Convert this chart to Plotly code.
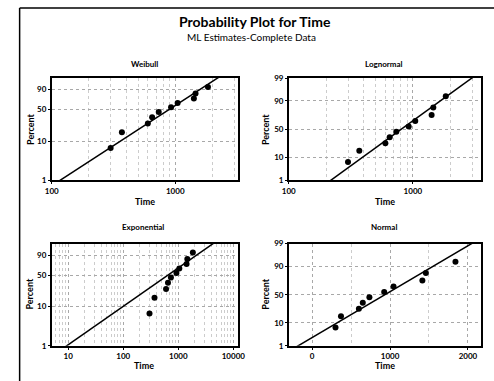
import math
import statistics
import plotly.graph_objects as go

# ---- data ----
time_values = [300, 370, 600, 650, 735, 925, 1045, 1415, 1460, 1840]
percent_rank = [6.7, 16.3, 26.0, 35.6, 45.2, 54.8, 64.4, 74.0, 83.7, 93.3]

weibull_yticks = [1, 10, 50, 90]
expo_yticks = [1, 10, 50, 90]
normal_yticks = [1, 10, 50, 90, 99]
weibull_xticks = [100, 1000]
lognormal_xticks = [100, 1000]
expo_xticks = [10, 100, 1000, 10000]
normal_xticks = [0, 1000, 2000]

panel_titles = ["Weibull", "Lognormal", "Exponential", "Normal"]

W, H = 494, 381
FONT = "Lato"
nd = statistics.NormalDist()


def sev(p):
    return math.log(-math.log(1 - p / 100.0))


def zq(p):
    return nd.inv_cdf(p / 100.0)


# ---- ML estimates ----
n = len(time_values)
lnx = [math.log(v) for v in time_values]
mean_ln = sum(lnx) / n


def wb_eq(k):
    xk = [v ** k for v in time_values]
    return sum(a * b for a, b in zip(xk, lnx)) / sum(xk) - 1.0 / k - mean_ln


lo, hi = 0.1, 30.0
for _ in range(200):
    mid = 0.5 * (lo + hi)
    if wb_eq(lo) * wb_eq(mid) <= 0:
        hi = mid
    else:
        lo = mid
wb_k = 0.5 * (lo + hi)
wb_lam = (sum(v ** wb_k for v in time_values) / n) ** (1.0 / wb_k)

ln_mu = mean_ln
ln_sig = math.sqrt(sum((a - ln_mu) ** 2 for a in lnx) / n)

ex_theta = sum(time_values) / n

no_mu = sum(time_values) / n
no_sig = math.sqrt(sum((v - no_mu) ** 2 for v in time_values) / n)

pgrid = [0.05 + i * (99.9 / 200) for i in range(201)]

wb_line_x = [wb_lam * (-math.log(1 - p / 100)) ** (1 / wb_k) for p in pgrid]
wb_line_y = [sev(p) for p in pgrid]
ln_line_x = [math.exp(ln_mu + ln_sig * zq(p)) for p in pgrid]
ln_line_y = [zq(p) for p in pgrid]
ex_line_x = [ex_theta * (-math.log(1 - p / 100)) for p in pgrid]
ex_line_y = [sev(p) for p in pgrid]
no_line_x = [no_mu + no_sig * zq(p) for p in pgrid]
no_line_y = [zq(p) for p in pgrid]

fig = go.Figure()

panels = [
    ("", wb_line_x, wb_line_y, sev),
    ("2", ln_line_x, ln_line_y, zq),
    ("3", ex_line_x, ex_line_y, sev),
    ("4", no_line_x, no_line_y, zq),
]

for suf, lx, ly, tf in panels:
    fig.add_trace(go.Scatter(
        x=lx, y=ly, mode="lines", xaxis="x" + suf, yaxis="y" + suf,
        line=dict(color="black", width=1.5), showlegend=False, hoverinfo="skip"))
    fig.add_trace(go.Scatter(
        x=time_values, y=[tf(p) for p in percent_rank], mode="markers",
        xaxis="x" + suf, yaxis="y" + suf,
        marker=dict(color="black", size=6), showlegend=False, cliponaxis=False))


def px_x(px):
    return px / W


def px_y(py):
    return 1 - py / H


GRID_MAJOR = "#a8a8a8"
GRID_MINOR = "#cccccc"
tickfont = dict(family=FONT, size=8, color="black", weight="bold")
grid = dict(showgrid=True, gridcolor=GRID_MAJOR, gridwidth=1, griddash="dot")
boxline = dict(showline=True, linecolor="black", linewidth=1.5, mirror=True,
               ticks="outside", ticklen=2, tickcolor="black", zeroline=False,
               tickfont=tickfont)

top_dom = [px_y(180), px_y(75)]
bot_dom = [px_y(350), px_y(245)]
left_dom = [px_x(46), px_x(238)]
right_dom = [px_x(290), px_x(488)]


def ylayout(ticks, tf, dom, anchor):
    return dict(domain=dom, anchor=anchor,
                range=[tf(1), tf(99)],
                tickmode="array", tickvals=[tf(t) for t in ticks],
                ticktext=[str(t) for t in ticks], **grid, **boxline)


log_minor_wb = [v * m for m in (100, 1000) for v in range(2, 10) if v * m <= 4000]
log_minor_ex = [v * m for m in (1, 10, 100, 1000, 10000) for v in range(2, 10) if v * m <= 13000]


def minor(vals):
    return dict(tickvals=vals, showgrid=True, gridcolor=GRID_MINOR,
                griddash="dot", ticks="")


fig.update_layout(
    width=W, height=H,
    margin=dict(l=0, r=0, t=0, b=0),
    paper_bgcolor="white", plot_bgcolor="white",
    font=dict(family=FONT, color="black"),
    xaxis=dict(domain=left_dom, anchor="y", type="log", range=[2, 3.51],
               tickmode="array", tickvals=weibull_xticks,
               ticktext=[str(t) for t in weibull_xticks],
               minor=minor(log_minor_wb), **grid, **boxline),
    yaxis=ylayout(weibull_yticks, sev, top_dom, "x"),
    xaxis2=dict(domain=right_dom, anchor="y2", type="log", range=[2, 3.55],
                tickmode="array", tickvals=lognormal_xticks,
                ticktext=[str(t) for t in lognormal_xticks],
                minor=minor(log_minor_wb), **grid, **boxline),
    yaxis2=ylayout(normal_yticks, zq, top_dom, "x2"),
    xaxis3=dict(domain=left_dom, anchor="y3", type="log", range=[0.7, 4.09],
                tickmode="array", tickvals=expo_xticks,
                ticktext=[str(t) for t in expo_xticks],
                minor=minor(log_minor_ex), **grid, **boxline),
    yaxis3=ylayout(expo_yticks, sev, bot_dom, "x3"),
    xaxis4=dict(domain=right_dom, anchor="y4", range=[-300, 2170],
                tickmode="array", tickvals=normal_xticks,
                ticktext=[str(t) for t in normal_xticks],
                minor=minor([500, 1500]), **grid, **boxline),
    yaxis4=ylayout(normal_yticks, zq, bot_dom, "x4"),
)

ann = []


def text(x, y, s, size, bold=False, angle=0):
    ann.append(dict(x=px_x(x), y=px_y(y), xref="paper", yref="paper", text=s,
                    showarrow=False, textangle=angle, xanchor="center", yanchor="middle",
                    font=dict(family=FONT, size=size, color="black",
                              weight="bold" if bold else "normal")))


text(255, 17, "Probability Plot for Time", 14, bold=True)
text(252, 33, "ML Estimates-Complete Data", 10)

text(142, 61, panel_titles[0], 8, bold=True)
text(388, 61, panel_titles[1], 8, bold=True)
text(140, 228, panel_titles[2], 8, bold=True)
text(388, 228, panel_titles[3], 8, bold=True)

for x, y in [(142, 202), (389, 202), (141, 370), (389, 370)]:
    text(x, y, "Time", 9, bold=True)
for x, y in [(24, 128), (266, 128), (23, 297), (266, 297)]:
    text(x, y, "Percent", 9, bold=True, angle=-90)

fig.update_layout(annotations=ann)

# outer frame (left and top edges visible in the reference)
fig.add_shape(type="line", xref="paper", yref="paper",
              x0=px_x(13), x1=px_x(13), y0=px_y(3), y1=-0.05,
              line=dict(color="black", width=1.5))
fig.add_shape(type="line", xref="paper", yref="paper",
              x0=px_x(13), x1=1.05, y0=px_y(3), y1=px_y(3),
              line=dict(color="black", width=1.5))

fig.write_html("out.html",
               config={"displayModeBar": False},
               post_script="document.body.style.margin='0';document.body.style.overflow='hidden';")
